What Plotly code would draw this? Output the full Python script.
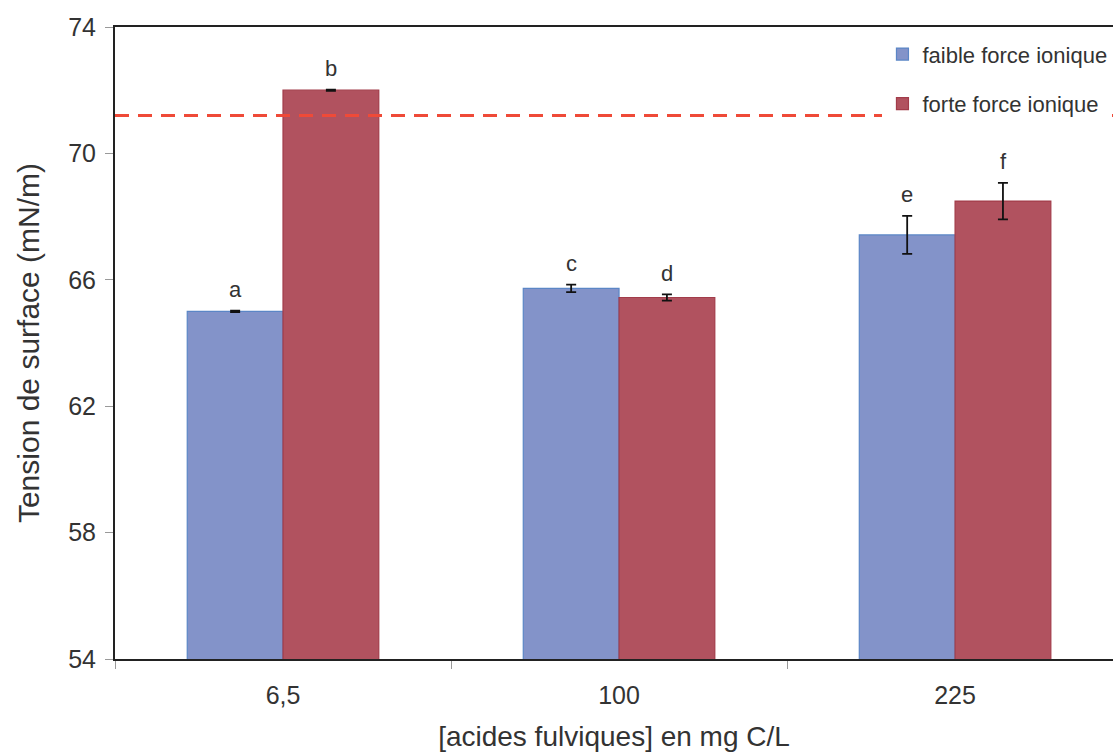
import plotly.graph_objects as go

# Surface tension of fulvic acid solutions at two ionic strengths
concentrations = ["6,5", "100", "225"]
faible_values = [65.0, 65.73, 67.42]
faible_errors = [0.02, 0.12, 0.60]
forte_values = [72.0, 65.44, 68.49]
forte_errors = [0.02, 0.10, 0.58]
faible_letters = ["a", "c", "e"]
forte_letters = ["b", "d", "f"]
reference_tension = 71.2

y_ticks = [54, 58, 62, 66, 70, 74]

font_family = "Liberation Sans, Arial, sans-serif"
text_color = "#333333"

fig = go.Figure()

fig.add_trace(go.Bar(
    name="faible force ionique",
    x=concentrations,
    y=faible_values,
    marker=dict(color="#8393c9", line=dict(color="#5b86c6", width=1.2)),
    error_y=dict(type="data", array=faible_errors, color="#111111",
                 thickness=1.8, width=5),
    legendgroup="g1",
))
fig.add_trace(go.Bar(
    name="forte force ionique",
    x=concentrations,
    y=forte_values,
    marker=dict(color="#b1525f", line=dict(color="#a23c4a", width=1.2)),
    error_y=dict(type="data", array=forte_errors, color="#111111",
                 thickness=1.8, width=5),
    legendgroup="g2",
))

# Significance letters above each bar's error bar (x given as category index)
for i in range(len(concentrations)):
    fig.add_annotation(x=i, y=faible_values[i] + faible_errors[i],
                       text=faible_letters[i], showarrow=False,
                       xshift=-48, yshift=21, yanchor="middle",
                       font=dict(size=22, color=text_color, family=font_family))
    fig.add_annotation(x=i, y=forte_values[i] + forte_errors[i],
                       text=forte_letters[i], showarrow=False,
                       xshift=48, yshift=21, yanchor="middle",
                       font=dict(size=22, color=text_color, family=font_family))

# Reference surface tension line
fig.add_shape(type="line", xref="paper", x0=0, x1=1,
              yref="y", y0=reference_tension, y1=reference_tension,
              line=dict(color="#ef4a38", width=3, dash="14px,9px"),
              layer="above")

fig.update_layout(
    width=1113,
    height=756,
    margin=dict(l=115, r=0, t=27, b=97),
    paper_bgcolor="white",
    plot_bgcolor="white",
    barmode="group",
    bargap=0.43,
    bargroupgap=0,
    font=dict(family=font_family, color=text_color),
    showlegend=True,
    legend=dict(
        x=0.769, y=0.99, xanchor="left", yanchor="top",
        bgcolor="white",
        font=dict(size=22, color=text_color, family=font_family),
        traceorder="grouped",
        tracegroupgap=18,
        itemwidth=30,
    ),
    xaxis=dict(
        type="category",
        range=[-0.5, 2.47],
        showline=True, linecolor="#222222", linewidth=2,
        mirror=True,
        ticks="outside", tickson="boundaries", ticklen=8,
        tickcolor="#999999", tickwidth=1,
        tickfont=dict(size=25, color=text_color),
        ticklabelstandoff=13,
        showgrid=False,
        title=dict(text="[acides fulviques] en mg C/L",
                   font=dict(size=28, color=text_color), standoff=18),
    ),
    yaxis=dict(
        range=[54, 74],
        tickvals=y_ticks,
        showline=True, linecolor="#222222", linewidth=2,
        ticks="outside", ticklen=8, tickcolor="#999999", tickwidth=1,
        tickfont=dict(size=25, color=text_color),
        ticklabelstandoff=4,
        showgrid=False, zeroline=False,
        title=dict(text="Tension de surface (mN/m)",
                   font=dict(size=30, color=text_color), standoff=20),
    ),
)

fig.write_html("out.html")
